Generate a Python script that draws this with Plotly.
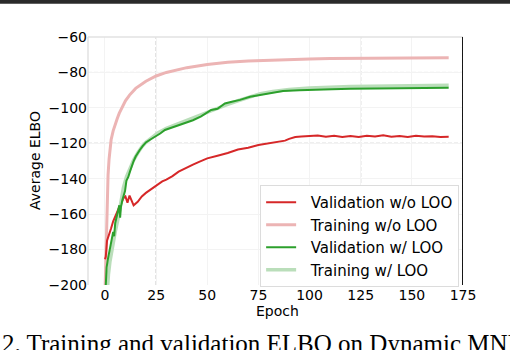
import plotly.graph_objects as go

# ---------------- data ----------------
val_noloo_epoch = [0, 0.4, 1, 2, 3, 4, 5, 6, 7, 8, 9, 10, 11, 12, 13, 14, 16, 18, 20, 22,
                   25, 28, 30, 33, 36, 40, 43, 46, 50, 55, 60, 65, 70, 75, 80, 85, 88, 90,
                   93, 96, 100, 104, 108, 112, 116, 120, 124, 128, 132, 136, 140, 144, 148,
                   152, 156, 160, 164, 168]
val_noloo = [-185.5, -184, -175, -172, -168, -164, -161, -158, -156, -154, -151, -150,
             -153.5, -149.5, -152, -155, -153, -150, -148, -146.5, -144, -141.5, -140.5,
             -138.5, -136, -133.5, -132, -130.5, -128.5, -127, -125.5, -123.5, -122.5,
             -121, -120, -119, -118.5, -117.5, -116.5, -116.2, -116, -115.6, -116.3,
             -115.8, -116.4, -115.9, -116.5, -115.7, -116.2, -115.5, -116.3, -115.9,
             -116.4, -115.8, -116.2, -116, -116.4, -116.3]

train_noloo_epoch = [0, 0.3, 0.6, 1, 1.5, 2, 2.5, 3, 4, 5, 6, 7, 8, 10, 12, 15, 20, 25, 30,
                     35, 40, 50, 60, 70, 80, 90, 100, 110, 120, 130, 140, 150, 160, 168]
train_noloo = [-205, -190, -170, -150, -138, -129, -123, -118, -113, -109, -106, -103,
               -100.5, -96, -92.8, -89, -85, -82, -80, -78.5, -77.3, -75.5, -74.2, -73.5,
               -73, -72.6, -72.4, -72.2, -72.1, -72, -71.9, -71.8, -71.8, -71.7]

val_loo_epoch = [0, 0.4, 0.8, 1.5, 2.4, 3.2, 4, 4.5, 5, 5.8, 6.5, 7, 7.4, 7.8, 8.5, 9.2,
                 9.8, 10.5, 11.4, 12.2, 13, 14, 15, 16, 17, 18.5, 20, 22, 24.4, 27, 29.3,
                 32, 35, 39, 43, 47, 51.9, 55, 58.6, 62, 66, 70.9, 75.8, 80, 87, 95, 103,
                 111, 120, 130, 140, 150, 160, 168]
val_loo = [-210, -198, -190, -185, -180, -174, -170, -172.5, -165, -161, -157, -155, -162,
           -156, -152, -149.5, -147, -141, -139, -136, -133, -130, -127.5, -125.5, -123.8,
           -121.5, -119.5, -118, -116.4, -114.5, -112.5, -111.5, -110.3, -108.7, -107,
           -104.8, -101.2, -100.5, -97.5, -96.5, -95.5, -93.7, -92.7, -91.8, -90.5, -90,
           -89.6, -89.5, -89.2, -89.1, -88.9, -88.8, -88.7, -88.6]

train_loo_epoch = [0.6, 1, 1.7, 2.4, 3.2, 4, 5, 6.5, 8.1, 9, 10.5, 12, 14, 16, 18, 20, 23,
                   26, 30, 35, 40, 45, 50, 55, 60, 65, 70, 76, 82, 90, 100, 110, 120, 130,
                   140, 150, 160, 168]
train_loo = [-212, -203, -194, -187, -181, -176, -170, -162, -150, -145, -139, -134.5,
             -129.5, -125.5, -122, -119.5, -116.5, -114, -111.5, -109.2, -107, -105,
             -102.5, -100, -98, -96, -94, -92, -90.8, -89.6, -88.8, -88.3, -88, -87.8,
             -87.6, -87.5, -87.4, -87.3]

x_ticks = [0, 25, 50, 75, 100, 125, 150, 175]
y_ticks = [-200, -180, -160, -140, -120, -100, -80, -60]
dashed_x = [25, 125, 175]
dashed_y = [-80, -120]

# ---------------- figure ----------------
FONT = "DejaVu Sans"
PAD = "\u00a0\u00a0"
fig = go.Figure()

fig.add_trace(go.Scatter(x=train_noloo_epoch, y=train_noloo, mode="lines",
                         name=PAD + "Training w/o LOO", legendrank=2, legendgroup="b",
                         line=dict(color="rgb(236,180,180)", width=3)))
fig.add_trace(go.Scatter(x=val_noloo_epoch, y=val_noloo, mode="lines",
                         name=PAD + "Validation w/o LOO", legendrank=1, legendgroup="a",
                         line=dict(color="#d62728", width=2)))
fig.add_trace(go.Scatter(x=train_loo_epoch, y=train_loo, mode="lines",
                         name=PAD + "Training w/ LOO", legendrank=4, legendgroup="d",
                         line=dict(color="rgb(186,222,186)", width=3.5)))
fig.add_trace(go.Scatter(x=val_loo_epoch, y=val_loo, mode="lines",
                         name=PAD + "Validation w/ LOO", legendrank=3, legendgroup="c",
                         line=dict(color="#2ca02c", width=2)))

shapes = []
for xv in dashed_x:
    shapes.append(dict(type="line", xref="x", yref="y", x0=xv, x1=xv, y0=-200, y1=-60,
                       line=dict(color="#b4b4b4", width=1, dash="4px,2px"), layer="below"))
for yv in dashed_y:
    shapes.append(dict(type="line", xref="x", yref="y", x0=-8.3, x1=175, y0=yv, y1=yv,
                       line=dict(color="#b4b4b4", width=1, dash="4px,2px"), layer="below"))
# frame pieces
shapes.append(dict(type="line", xref="paper", yref="paper", x0=0, x1=0, y0=0, y1=1,
                   line=dict(color="#e2e2e2", width=1.5)))
shapes.append(dict(type="line", xref="paper", yref="paper", x0=0, x1=1, y0=1, y1=1,
                   line=dict(color="#e2e2e2", width=1.5)))
shapes.append(dict(type="line", xref="x", yref="paper", x0=175, x1=175, y0=0, y1=1,
                   line=dict(color="black", width=1.8)))
# black bar at the very top of the page
shapes.append(dict(type="rect", xref="paper", yref="paper", x0=-0.25, x1=1.15,
                   y0=(285 - 3.8) / 248, y1=(285 + 2) / 248, line=dict(width=0),
                   fillcolor="#2b2b2b"))

fig.update_layout(
    width=510, height=350,
    margin=dict(l=88, r=47, t=37, b=65),
    paper_bgcolor="white", plot_bgcolor="white",
    font=dict(family=FONT, size=14, color="black"),
    showlegend=True, hovermode=False,
    legend=dict(x=0.459, y=0.403, xanchor="left", yanchor="top",
                bgcolor="white", bordercolor="#dcdcdc", borderwidth=1,
                font=dict(family=FONT, size=15), tracegroupgap=0,
                traceorder="grouped"),
    shapes=shapes,
    annotations=[
        dict(text="Epoch", xref="paper", yref="paper", x=0.504, y=(285 - 311) / 248,
             showarrow=False, xanchor="center", yanchor="middle",
             font=dict(family=FONT, size=14)),
        dict(text="Average ELBO", xref="paper", yref="paper", x=(35 - 88) / 375, y=0.5,
             showarrow=False, xanchor="center", yanchor="middle", textangle=-90,
             font=dict(family=FONT, size=14)),
        dict(text="2. Training and validation ELBO on Dynamic MNIST", xref="paper",
             yref="paper", x=(0 - 88) / 375, y=(285 - 343.5) / 248, showarrow=False,
             xanchor="left", yanchor="middle",
             font=dict(family="Liberation Serif", size=25, color="black")),
    ],
)
fig.update_xaxes(range=[-8.3, 175], tickvals=x_ticks, showgrid=True, gridcolor="#f3f3f3",
                 gridwidth=1, zeroline=False, showline=False, ticks="", tickfont=dict(size=14))
fig.update_yaxes(range=[-200, -60], tickvals=y_ticks, showgrid=True, gridcolor="#f3f3f3",
                 gridwidth=1, zeroline=False, showline=False, ticks="", tickfont=dict(size=14))

fig.write_html("out.html", config={"displayModeBar": False, "staticPlot": True},
               post_script="document.body.style.margin='0';document.body.style.overflow='hidden';")
